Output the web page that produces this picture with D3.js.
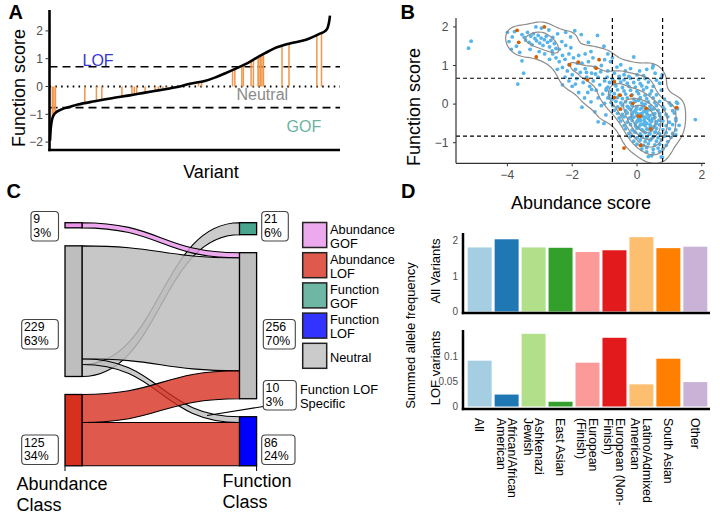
<!DOCTYPE html>
<html><head><meta charset="utf-8">
<script src="https://cdn.jsdelivr.net/npm/d3@7"></script>
<style>body{margin:0;background:#fff} svg{display:block;font-family:"Liberation Sans",Arial,Helvetica,sans-serif}</style>
</head><body><svg id="c" width="720" height="513"></svg>
<script>
// ================= DATA =================
// Panel A: sorted function score curve (variant rank, score)
const curveRank  = [1,2,4,7,16,27,37,59,81,104,124,143,167,182,201,214,227,244,257,269,279,291,311,332,350,357,360,362,363];
const curveScore = [-1.95,-1.5,-1.15,-0.98,-0.82,-0.73,-0.65,-0.53,-0.42,-0.32,-0.22,-0.13,-0.01,0.1,0.2,0.32,0.47,0.68,0.85,1.05,1.2,1.37,1.55,1.68,1.9,2.0,2.12,2.35,2.55];
// highlighted (orange) variants
const hiRank  = [4,6,8,46,61,68,94,107,110,113,124,137,141,147,152,193,197,237,240,249,251,261,264,270,271,273,275,277,301,310,346,352];
const hiScore = [-1.15,-1.02,-0.96,-0.6,-0.52,-0.49,-0.37,-0.31,-0.29,-0.27,-0.22,-0.16,-0.14,-0.11,-0.08,0.16,0.18,0.59,0.63,0.74,0.77,0.91,0.96,1.06,1.07,1.1,1.13,1.17,1.47,1.54,1.86,1.92];
const aThresh = [0.71, -0.76];
const aTicks = [-2,-1,0,1,2];

// Panel B: abundance vs function scores
const bluePts = [
[-5.2,1.45],[-5.12,1.63],[-4.0,1.86],[-3.95,1.62],[-3.85,1.74],[-3.78,1.88],[-3.72,1.5],[-3.55,1.8],[-3.48,1.73],[-3.44,1.66],[-3.38,1.86],[-3.33,1.6],[-3.28,1.76],[-3.24,1.54],[-3.2,1.82],[-3.15,1.7],[-3.1,1.64],[-3.05,1.78],[-3.0,1.58],[-2.96,1.71],[-2.9,1.52],[-2.86,1.67],[-2.8,1.76],[-2.76,1.6],[-2.7,1.48],[-2.66,1.65],[-2.6,1.73],[-2.55,1.57],[-2.5,1.44],[-2.72,1.92],[-2.95,1.97],[-3.12,2.0],[-2.45,1.82],[-2.2,1.86],[-2.05,1.74],[-1.92,1.9],[-1.72,1.8],[-2.32,1.62],[-3.88,1.42],[-3.62,1.34],[-3.3,1.42],[-3.02,1.36],[-3.5,0.8],[-3.68,0.52],[-3.55,1.12],[-2.4,1.42],[-2.3,1.26],[-2.2,1.52],[-2.1,1.3],[-2.04,1.46],[-1.22,1.78],[-1.5,1.6],[-1.02,1.5],[-1.42,1.36],[-2.62,1.38],[-2.85,1.3],
[-2.4,1.1],[-2.3,0.95],[-2.22,1.16],[-2.15,0.86],[-2.1,1.02],[-2.0,0.76],[-1.96,1.2],[-1.9,0.9],[-1.86,0.66],[-1.8,1.26],[-1.75,0.82],[-1.7,1.06],[-1.66,0.56],[-1.6,0.92],[-1.55,0.7],[-1.5,1.1],[-1.46,0.46],[-1.4,0.8],[-1.35,0.6],[-1.3,0.96],[-1.26,0.36],[-1.2,0.7],[-1.15,0.5],[-1.1,1.0],[-1.06,0.26],[-1.0,0.6],[-0.95,0.4],[-0.9,0.86],[-0.86,0.16],[-2.6,1.3],[-2.5,1.2],[-2.46,0.9],[-2.7,1.16],[-2.0,0.46],[-1.8,0.3],[-1.62,0.16],[-1.42,0.06],[-1.7,-0.08],[-1.3,-0.2],[-1.52,0.3],[-1.2,0.16],[-1.1,-0.04],[-1.0,0.02],[-0.96,-0.28],[-1.2,-0.46],[-0.9,1.3],[-1.0,1.15],[-0.82,1.1],[-0.76,1.2],[-2.1,0.6],[-1.9,0.52],[-2.22,0.7],[-1.36,1.2],[-1.6,1.3],[-1.84,1.06],[-1.56,0.82],[-1.28,0.78],[-1.12,0.84],[-0.92,0.7],[-1.4,0.38],[-2.3,0.5],[-1.02,-0.5],
[-0.62,0.96],[-0.5,1.02],[-0.36,0.86],[-0.2,0.92],[0.08,0.86],[0.3,0.9],[0.5,1.0],[0.56,0.8],[0.78,0.76],[-0.7,0.8],[-0.4,0.76],[0.0,0.76],[-0.1,1.22],[0.48,0.94],[0.75,0.68],[-0.25,0.72],[0.2,0.74],[-0.55,0.72],
[-0.75,0.64],[-0.55,0.66],[-0.4,0.63],[-0.2,0.67],[0.05,0.64],[0.25,0.66],[0.6,0.62],
[-0.85,0.56],[-0.7,0.53],[-0.5,0.57],[-0.3,0.54],[-0.1,0.56],[0.1,0.53],[0.35,0.57],[0.7,0.54],
[-0.9,0.44],[-0.65,0.47],[-0.45,0.43],[-0.25,0.46],[-0.05,0.44],[0.15,0.47],[0.3,0.43],[0.5,0.46],
[-0.95,0.36],[-0.8,0.33],[-0.6,0.37],[-0.4,0.34],[-0.2,0.36],[0.0,0.33],[0.2,0.37],[0.45,0.34],[0.75,0.36],
[-0.85,0.24],[-0.7,0.27],[-0.55,0.23],[-0.35,0.26],[-0.15,0.24],[0.05,0.27],[0.25,0.23],[0.4,0.26],[0.6,0.24],
[-0.9,0.16],[-0.75,0.13],[-0.6,0.17],[-0.45,0.14],[-0.3,0.16],[-0.1,0.13],[0.1,0.17],[0.3,0.14],[0.5,0.16],[0.85,0.13],
[-0.8,0.04],[-0.65,0.07],[-0.5,0.03],[-0.35,0.06],[-0.2,0.04],[-0.05,0.07],[0.15,0.03],[0.35,0.06],[0.55,0.04],[0.7,0.07],[1.0,0.03],
[-0.75,-0.04],[-0.6,-0.07],[-0.45,-0.03],[-0.3,-0.06],[-0.15,-0.04],[0.0,-0.07],[0.2,-0.03],[0.4,-0.06],[0.6,-0.04],[0.8,-0.07],[1.05,-0.03],
[-0.7,-0.16],[-0.5,-0.13],[-0.35,-0.17],[-0.2,-0.14],[-0.05,-0.16],[0.1,-0.13],[0.25,-0.17],[0.45,-0.14],[0.65,-0.16],[0.85,-0.13],[1.1,-0.17],
[-0.6,-0.24],[-0.45,-0.27],[-0.3,-0.23],[-0.15,-0.26],[0.0,-0.24],[0.15,-0.27],[0.3,-0.23],[0.5,-0.26],[0.7,-0.24],[0.9,-0.27],[1.15,-0.23],
[-0.55,-0.36],[-0.4,-0.33],[-0.25,-0.37],[-0.1,-0.34],[0.05,-0.36],[0.2,-0.33],[0.35,-0.37],[0.55,-0.34],[0.75,-0.36],[0.95,-0.33],[1.2,-0.37],
[-0.5,-0.44],[-0.3,-0.47],[-0.15,-0.43],[0.0,-0.46],[0.1,-0.44],[0.25,-0.47],[0.4,-0.43],[0.6,-0.46],[0.8,-0.44],[1.0,-0.47],[1.2,-0.43],
[-0.4,-0.56],[-0.2,-0.53],[-0.05,-0.57],[0.1,-0.54],[0.25,-0.56],[0.4,-0.53],[0.55,-0.57],[0.7,-0.54],[0.9,-0.56],[1.1,-0.53],
[-0.35,-0.64],[-0.15,-0.67],[0.0,-0.63],[0.15,-0.66],[0.3,-0.64],[0.45,-0.67],[0.6,-0.63],[0.8,-0.66],[1.0,-0.64],[1.2,-0.67],
[-0.25,-0.76],[-0.05,-0.73],[0.1,-0.77],[0.25,-0.74],[0.4,-0.76],[0.55,-0.73],[0.7,-0.77],[0.9,-0.74],[1.1,-0.76],
[-0.2,-0.84],[0.0,-0.87],[0.15,-0.83],[0.3,-0.86],[0.5,-0.84],[0.65,-0.87],[0.85,-0.83],[1.05,-0.86],
[-0.1,-0.96],[0.1,-0.93],[0.25,-0.97],[0.4,-0.94],[0.6,-0.96],[0.75,-0.93],[0.95,-0.97],
[0.0,-1.04],[0.2,-1.07],[0.35,-1.03],[0.55,-1.06],[0.7,-1.04],[0.9,-1.07],
[0.15,-1.16],[0.3,-1.13],[0.5,-1.17],[0.65,-1.14],[0.8,-1.16],
[0.3,-1.24],[0.5,-1.27],[0.7,-1.23],[0.35,-1.36],[0.45,-1.34],[0.75,-1.37],
[1.8,-0.4],[1.22,0.05],[1.25,-0.12],[1.3,-0.55],[1.2,-0.8],[0.78,-1.38],[1.25,0.02],
[-0.1,-0.2],[0.0,-0.3],[0.1,-0.4],[0.2,-0.2],[0.3,-0.5],[0.4,-0.3],[0.5,-0.6],[0.15,-0.1],[0.25,-0.35],[0.35,-0.15],[-0.05,-0.5],[0.05,-0.6],[0.45,-0.45],[0.55,-0.25],[0.6,-0.5],[0.2,-0.7],[0.35,-0.65],[-0.2,-0.35],[-0.15,0.0],[0.05,0.1],[0.25,0.0],[0.12,-0.25],[0.32,-0.28],[0.42,-0.58],[0.18,-0.52],[-0.02,-0.12],[0.08,-0.32],[0.28,-0.12],[0.48,-0.38],[0.38,-0.78],[0.58,-0.72],[0.68,-0.42],[0.15,-0.85],[-0.08,-0.72],[0.22,-0.42],[0.02,-0.42],[0.52,-0.12],[-0.25,-0.1],[0.7,-0.3],[0.45,-0.9]
];
const orangePts = [[-3.7,1.91],[-3.65,1.6],[-2.86,2.0],[-3.11,1.22],[-2.08,1.02],[-1.81,1.09],[-1.17,1.15],[-1.26,0.93],[-1.53,0.63],[-0.7,0.58],[-0.7,0.17],[-0.52,0.23],[-0.18,0.22],[-0.52,-0.13],[0.28,-0.11],[0.04,-0.31],[0.11,-0.31],[0.42,-0.64],[-0.4,-1.14],[0.11,-1.07],[1.22,-0.09],[-0.13,0.02]];
const bXThresh = [-0.76, 0.79];
const bYThresh = [0.67, -0.83];
const bXTicks = [-4,-2,0,2];
const bYTicks = [-1,0,1,2];

// Panel C: alluvial flows
const classNames = ["GOF","Neutral","LOF"];
const flowFrom  = ["Neutral","Neutral","Neutral","LOF","LOF","GOF"];
const flowTo    = ["GOF","LOF","Neutral","Neutral","LOF","Neutral"];
const flowValue = [21,10,198,49,76,9];
const leftOrder  = {GOF:[5], Neutral:[2,1,0], LOF:[3,4]};
const rightOrder = {GOF:[0], Neutral:[5,2,3], LOF:[1,4]};
// count / percent labels as printed: left GOF, Neutral, LOF; right GOF, Neutral, LOF-specific flow, LOF
const countLabels = ["9","229","125","21","256","10","86"];
const pctLabels   = ["3%","63%","34%","6%","70%","3%","24%"];
const legendLabels = [["Abundance","GOF"],["Abundance","LOF"],["Function","GOF"],["Function","LOF"],["Neutral"]];

// Panel D: summed allele frequency by population
const popLabels = ["All","African/African\nAmerican","Ashkenazi\nJewish","East Asian","European\n(Finish)","European (Non-\nFinish)","Latino/Admixed\nAmerican","South Asian","Other"];
const allVals = [1.81,2.04,1.81,1.8,1.68,1.73,2.1,1.79,1.83];
const lofVals = [0.092,0.024,0.146,0.0095,0.088,0.138,0.0445,0.096,0.049];
const popColors = ["#a6cee3","#1f78b4","#b2df8a","#33a02c","#fb9a99","#e31a1c","#fdbf6f","#ff7f00","#cab2d6"];

// ================= DRAW =================
const svg = d3.select("#c");
const TC = "#4d4d4d";
function txt(g, x, y, s, o={}) {
  const t = g.append("text").attr("x",x).attr("y",y).text(s)
    .attr("font-size", o.size||12).attr("fill", o.fill||"#000")
    .attr("text-anchor", o.anchor||"start");
  if (o.weight) t.attr("font-weight", o.weight);
  if (o.transform) t.attr("transform", o.transform);
  return t;
}
function mtxt(g, x, y, lines, lh, o={}) {
  lines.forEach((s,j) => txt(g, x, y + j*lh, s, o));
}

// ---------- Panel A ----------
{
  const g = svg.append("g");
  const x = d3.scaleLinear().domain([1,363]).range([50,330]);
  const y = d3.scaleLinear().domain([-2,2]).range([142.1,30.9]);
  aThresh.forEach(v => g.append("line").attr("x1",49.5).attr("x2",340).attr("y1",y(v)).attr("y2",y(v))
    .attr("stroke","#000").attr("stroke-width",1.6).attr("stroke-dasharray","8,5"));
  g.append("line").attr("x1",49.5).attr("x2",340).attr("y1",y(0)).attr("y2",y(0))
    .attr("stroke","#000").attr("stroke-width",2).attr("stroke-dasharray","1.6,4.2");
  g.selectAll("line.hi").data(hiRank).join("line")
    .attr("x1",(d)=>x(d)).attr("x2",(d)=>x(d))
    .attr("y1",y(0)).attr("y2",(d,i)=>y(hiScore[i]))
    .attr("stroke","#f0964a").attr("stroke-width",1.5);
  const line = d3.line().x(d=>x(d[0])).y(d=>y(d[1])).curve(d3.curveMonotoneX);
  g.append("path").attr("d", line(curveRank.map((r,i)=>[r,curveScore[i]])))
    .attr("fill","none").attr("stroke","#000").attr("stroke-width",2.6);
  g.append("line").attr("x1",49.5).attr("x2",49.5).attr("y1",10).attr("y2",151.2).attr("stroke","#000").attr("stroke-width",2.6);
  g.append("line").attr("x1",48.2).attr("x2",340).attr("y1",150).attr("y2",150).attr("stroke","#000").attr("stroke-width",2.6);
  aTicks.forEach(v => {
    g.append("line").attr("x1",45.5).attr("x2",48.5).attr("y1",y(v)).attr("y2",y(v)).attr("stroke","#333").attr("stroke-width",1);
    txt(g, 43, y(v)+4.2, v<0 ? "\u2212"+Math.abs(v) : String(v), {anchor:"end", fill:TC, size:12});
  });
  txt(g, 24.5, 88, "Function score", {size:18, anchor:"middle", transform:"rotate(-90,24.5,88)"});
  txt(g, 211, 178, "Variant", {size:18, anchor:"middle"});
  txt(g, 8.5, 18.5, "A", {size:20, weight:"bold"});
  txt(g, 82.5, 65.5, "LOF", {size:16, fill:"#3535d5"});
  txt(g, 236.5, 100, "Neutral", {size:16, fill:"#8a8a8a"});
  txt(g, 286.5, 131.5, "GOF", {size:16, fill:"#6cb3a3"});
}

// ---------- Panel B ----------
{
  const g = svg.append("g");
  const x = d3.scaleLinear().domain([-4,2]).range([507.4,701.8]);
  const y = d3.scaleLinear().domain([-1,2]).range([142.7,26.9]);
  const L=456, R=705, T=18, B=163.3;
  svg.append("clipPath").attr("id","clipB").append("rect").attr("x",L).attr("y",T).attr("width",R-L).attr("height",B-T);
  const inner = g.append("g").attr("clip-path","url(#clipB)");
  const all = bluePts.concat(orangePts);
  const dens = d3.contourDensity().x(d=>x(d[0])).y(d=>y(d[1])).size([720,260]).cellSize(2).bandwidth(7);
  let contours = [];
  const fr = [0.1,0.27,0.44,0.61,0.78];
  if (dens.contours) {
    const cf = dens.contours(all);
    contours = fr.map(f => cf(f*cf.max));
  } else {
    const cs = dens.thresholds(40)(all);
    const mx = d3.max(cs, c=>c.value);
    contours = fr.map(f => cs.reduce((a,c)=> Math.abs(c.value-f*mx)<Math.abs(a.value-f*mx)?c:a));
  }
  inner.selectAll("circle.bl").data(bluePts).join("circle")
    .attr("cx",d=>x(d[0])).attr("cy",d=>y(d[1])).attr("r",1.9).attr("fill","#56b4e9");
  inner.selectAll("path.ct").data(contours).join("path").attr("d", d3.geoPath())
    .attr("fill","none").attr("stroke","#8c8c8c").attr("stroke-width",1.2);
  inner.selectAll("circle.or").data(orangePts).join("circle")
    .attr("cx",d=>x(d[0])).attr("cy",d=>y(d[1])).attr("r",1.9).attr("fill","#d55e00");
  bYThresh.forEach(v => g.append("line").attr("x1",L).attr("x2",R).attr("y1",y(v)).attr("y2",y(v))
    .attr("stroke","#000").attr("stroke-width",1.2).attr("stroke-dasharray","4,3"));
  bXThresh.forEach(v => g.append("line").attr("y1",T).attr("y2",B).attr("x1",x(v)).attr("x2",x(v))
    .attr("stroke","#000").attr("stroke-width",1.2).attr("stroke-dasharray","4,3"));
  g.append("line").attr("x1",L).attr("x2",L).attr("y1",T).attr("y2",B).attr("stroke","#333").attr("stroke-width",1.2);
  g.append("line").attr("x1",L).attr("x2",R).attr("y1",B).attr("y2",B).attr("stroke","#333").attr("stroke-width",1.2);
  bXTicks.forEach(v => {
    g.append("line").attr("x1",x(v)).attr("x2",x(v)).attr("y1",B).attr("y2",B+3).attr("stroke","#333");
    txt(g, x(v), 179, v<0 ? "\u2212"+Math.abs(v) : String(v), {anchor:"middle", fill:TC, size:12});
  });
  bYTicks.forEach(v => {
    g.append("line").attr("x1",L-3).attr("x2",L).attr("y1",y(v)).attr("y2",y(v)).attr("stroke","#333");
    txt(g, 448.5, y(v)+4.2, v<0 ? "\u2212"+Math.abs(v) : String(v), {anchor:"end", fill:TC, size:12});
  });
  txt(g, 420, 107, "Function score", {size:18, anchor:"middle", transform:"rotate(-90,420,107)"});
  txt(g, 581, 209, "Abundance score", {size:18, anchor:"middle"});
  txt(g, 400.5, 18.5, "B", {size:20, weight:"bold"});
}

// ---------- Panel C ----------
{
  const g = svg.append("g");
  const col = {GOF:"#e994e9", Neutral:"#bebebe", LOF:"#d7301f"};
  const rcol = {GOF:"#4aa58f", Neutral:"#bebebe", LOF:"#0000ff"};
  const total = d3.sum(flowValue);
  const k = d3.scaleLinear().domain([0,total]).range([0,207.1]);
  const top = 222.7, pad = 18;
  const lx0=65, lx1=82, rx0=239.5, rx1=256.6;
  function layout(order) {
    const nodes = {}; const pos = {};
    let yy = top;
    classNames.forEach(c => {
      const v = d3.sum(order[c], i=>flowValue[i]);
      nodes[c] = {y0:yy, y1:yy+k(v), v};
      let fy = yy;
      order[c].forEach(i => { pos[i] = [fy, fy+k(flowValue[i])]; fy += k(flowValue[i]); });
      yy += k(v) + pad;
    });
    return {nodes, pos};
  }
  const Lh = layout(leftOrder), Rh = layout(rightOrder);
  const xm = (lx1+rx0)/2;
  function band(i) {
    const [a0,a1] = Lh.pos[i], [b0,b1] = Rh.pos[i];
    return `M${lx1},${a0}C${xm},${a0} ${xm},${b0} ${rx0},${b0}L${rx0},${b1}C${xm},${b1} ${xm},${a1} ${lx1},${a1}Z`;
  }
  [0,1,2,3,4,5].forEach(i => {
    g.append("path").attr("d", band(i)).attr("fill", col[flowFrom[i]]).attr("fill-opacity", i===2 ? 0.86 : 0.8)
      .attr("stroke","#000").attr("stroke-width",1.1);
  });
  classNames.forEach(c => {
    const n = Lh.nodes[c];
    g.append("rect").attr("x",lx0).attr("y",n.y0).attr("width",lx1-lx0).attr("height",n.y1-n.y0)
      .attr("fill",col[c]).attr("stroke","#000").attr("stroke-width",1.3);
    const m = Rh.nodes[c];
    g.append("rect").attr("x",rx0).attr("y",m.y0).attr("width",rx1-rx0).attr("height",m.y1-m.y0)
      .attr("fill",rcol[c]).attr("stroke","#000").attr("stroke-width",1.3);
  });
  [lx0, rx1].forEach(xx => g.append("line").attr("x1",xx).attr("x2",xx).attr("y1",466).attr("y2",471).attr("stroke","#000"));
  const boxes = [
    {x:31, y:211.5, w:27.5},
    {x:21.7, y:319.5, w:36.6},
    {x:21.7, y:435, w:36.6},
    {x:261.7, y:211.5, w:26.6},
    {x:263.3, y:319.5, w:32},
    {x:263.3, y:380.5, w:33},
    {x:261.7, y:435, w:33.3}
  ];
  g.append("line").attr("x1",263.3).attr("y1",406.5).attr("x2",207).attr("y2",415.5).attr("stroke","#000").attr("stroke-width",1.1);
  boxes.forEach((b,i) => {
    g.append("rect").attr("x",b.x).attr("y",b.y).attr("width",b.w).attr("height",29.5).attr("rx",3.5)
      .attr("fill","#fff").attr("stroke","#444").attr("stroke-width",1.1);
    mtxt(g, b.x+2.3, b.y+11.6, [countLabels[i], pctLabels[i]], 13.8, {size:12.3});
  });
  mtxt(g, 300, 393.5, ["Function LOF","Specific"], 14.2, {size:12.9});
  const legFill = [col.GOF, col.LOF, rcol.GOF, rcol.LOF, col.Neutral];
  legendLabels.forEach((lab,i) => {
    const yy = 222.5 + i*30.2;
    g.append("rect").attr("x",302.7).attr("y",yy).attr("width",24).attr("height",25)
      .attr("fill",legFill[i]).attr("fill-opacity",0.8).attr("stroke","#222").attr("stroke-width",1.5);
    if (lab.length === 2) mtxt(g, 330, yy+11.2, lab, 14, {size:12.8});
    else txt(g, 330, yy+18.2, lab[0], {size:12.8});
  });
  mtxt(g, 16.5, 490, ["Abundance","Class"], 20.5, {size:18});
  mtxt(g, 222.5, 487, ["Function","Class"], 21, {size:18});
  txt(g, 6.5, 198.3, "C", {size:20, weight:"bold"});
}

// ---------- Panel D ----------
{
  const g = svg.append("g");
  const x = d3.scaleBand().domain(popLabels).range([466.2,708.8]).paddingInner(0.11).paddingOuter(0.055);
  const y1 = d3.scaleLinear().domain([0,2]).range([311.5,240.7]);
  const y2 = d3.scaleLinear().domain([0,0.1]).range([406.5,356.7]);
  g.selectAll("rect.a").data(allVals).join("rect")
    .attr("x",(d,i)=>x(popLabels[i])).attr("width",x.bandwidth())
    .attr("y",d=>y1(d)).attr("height",d=>y1(0)-y1(d)).attr("fill",(d,i)=>popColors[i]);
  g.selectAll("rect.l").data(lofVals).join("rect")
    .attr("x",(d,i)=>x(popLabels[i])).attr("width",x.bandwidth())
    .attr("y",d=>y2(d)).attr("height",d=>y2(0)-y2(d)).attr("fill",(d,i)=>popColors[i]);
  [[233,313],[330,409]].forEach(([t,b]) => {
    g.append("line").attr("x1",463).attr("x2",463).attr("y1",t).attr("y2",b+1.2).attr("stroke","#000").attr("stroke-width",2.5);
    g.append("line").attr("x1",461.8).attr("x2",710).attr("y1",b).attr("y2",b).attr("stroke","#000").attr("stroke-width",2.5);
  });
  [0,1,2].forEach(v => txt(g, 458, y1(v)+3.5, String(v), {anchor:"end", fill:TC, size:10}));
  [0,0.05,0.1].forEach(v => txt(g, 458, y2(v)+3.5, String(v), {anchor:"end", fill:TC, size:10}));
  popLabels.forEach((lab,i) => {
    const cx = x(lab) + x.bandwidth()/2;
    const lines = lab.split("\n");
    const gg = g.append("g").attr("transform",`translate(${cx},418) rotate(90)`);
    lines.forEach((s,j) => {
      const off = (j - (lines.length-1)/2) * 11.5;
      gg.append("text").attr("x",0).attr("y",off).attr("dy","0.35em").text(s)
        .attr("font-size",12.3).attr("fill","#000");
    });
  });
  txt(g, 415, 335.5, "Summed allele frequency", {size:13, anchor:"middle", transform:"rotate(-90,415,335.5)"});
  txt(g, 440, 271, "All Variants", {size:13, anchor:"middle", transform:"rotate(-90,440,271)"});
  txt(g, 440, 368, "LOF variants", {size:13, anchor:"middle", transform:"rotate(-90,440,368)"});
  txt(g, 401, 197.5, "D", {size:20, weight:"bold"});
}
</script></body></html>
